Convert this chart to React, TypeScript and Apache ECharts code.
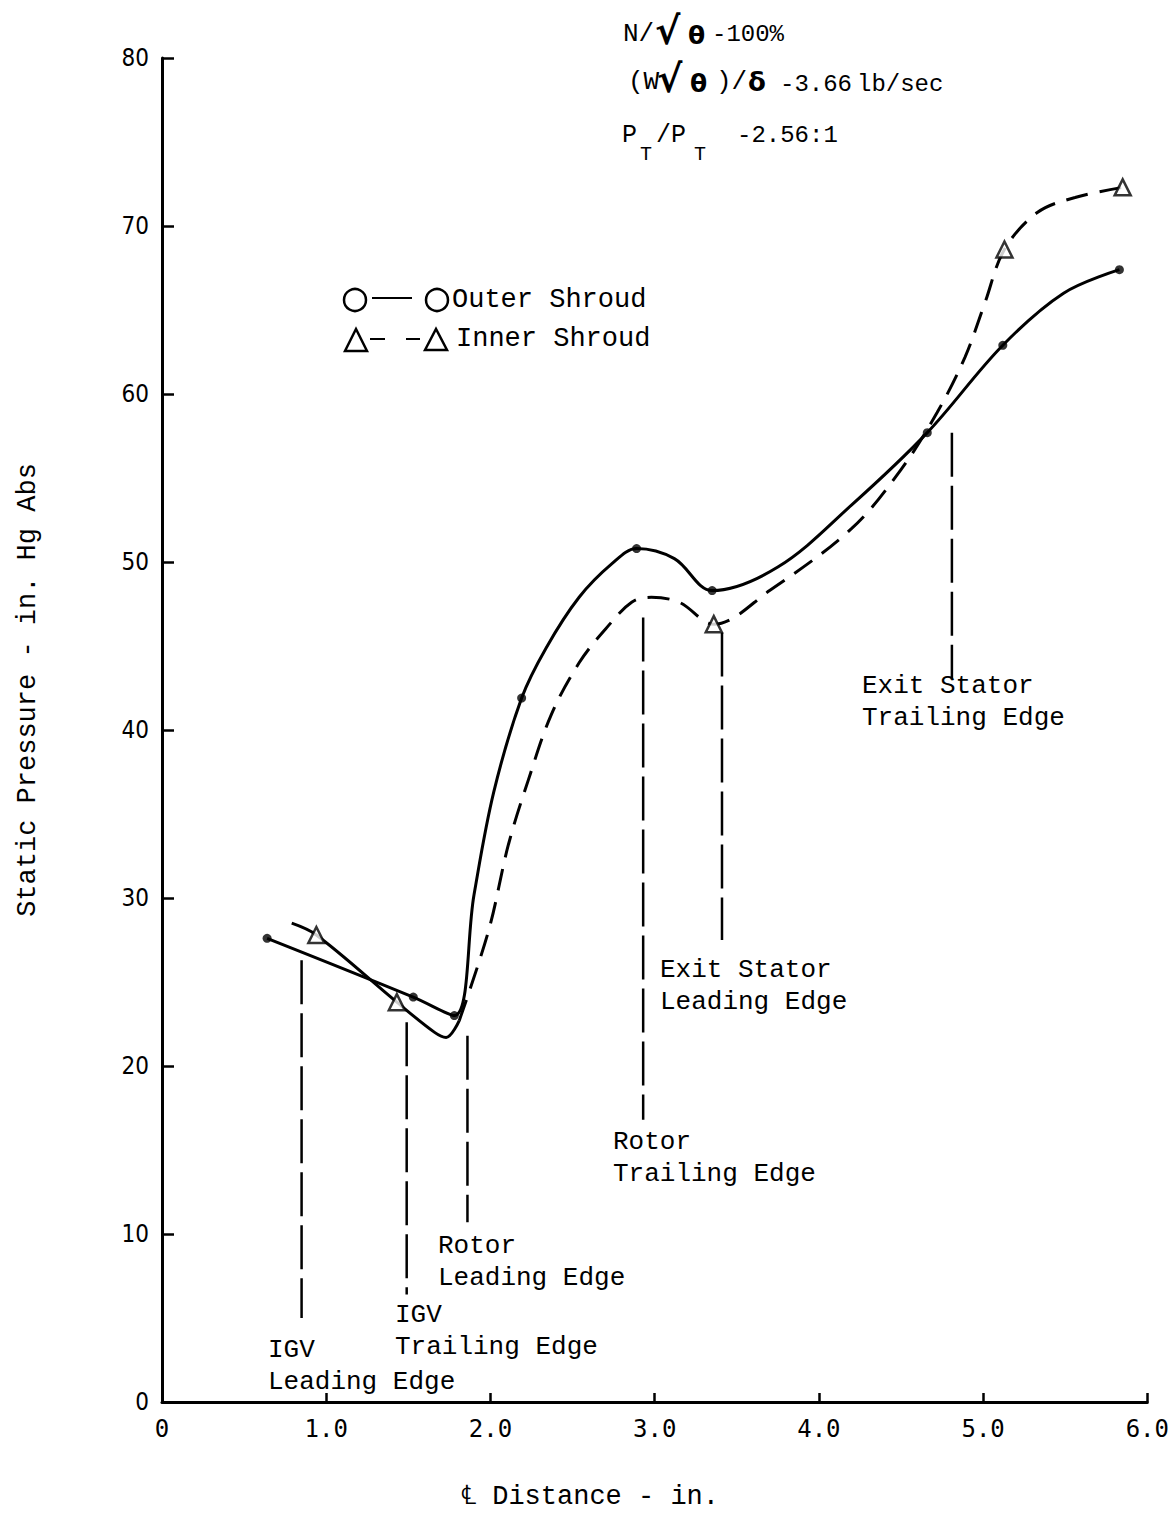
import React, { useEffect, useRef } from "react";
import * as echarts from "echarts";

// Measured static-pressure points (distance in inches, pressure in in. Hg Abs)
const outerX = [0.64, 1.53, 1.78, 2.19, 2.89, 3.35, 4.66, 5.12, 5.83];
const outerY = [27.6, 24.1, 23.0, 41.9, 50.8, 48.3, 57.7, 62.9, 67.4];
const innerX = [0.94, 1.43, 3.36, 5.13, 5.85];
const innerY = [27.8, 23.8, 46.3, 68.6, 72.3];

// Faired curves through the measured points
const outerCurveX = [0.64, 1.53, 1.78, 1.9, 2.02, 2.19, 2.34, 2.54, 2.74, 2.89, 3.12, 3.35, 3.75, 4.2, 4.66, 5.12, 5.49, 5.83];
const outerCurveY = [27.6, 24.1, 23.0, 30.2, 36.3, 41.9, 44.9, 47.9, 49.9, 50.8, 50.2, 48.3, 49.7, 53.4, 57.7, 62.9, 66.0, 67.4];
const innerSolidX = [0.79, 0.94, 1.43, 1.66, 1.73, 1.81];
const innerSolidY = [28.5, 27.8, 23.8, 22.0, 21.7, 22.7];
const innerDashX = [1.81, 1.99, 2.11, 2.23, 2.37, 2.54, 2.7, 2.86, 2.98, 3.15, 3.36, 3.7, 4.2, 4.5, 4.72, 4.89, 5.01, 5.13, 5.33, 5.56, 5.85];
const innerDashY = [22.7, 28.1, 33.2, 37.0, 40.9, 44.0, 46.0, 47.6, 47.9, 47.6, 46.3, 48.3, 52.0, 55.5, 58.9, 62.2, 65.4, 68.6, 70.8, 71.7, 72.3];

// Blade-row station markers
const stationNames = ["IGV\nLeading Edge", "IGV\nTrailing Edge", "Rotor\nLeading Edge", "Rotor\nTrailing Edge", "Exit Stator\nLeading Edge", "Exit Stator\nTrailing Edge"];
const stationX = [0.85, 1.49, 1.86, 2.93, 3.41, 4.81];
const stationTop = [26.3, 22.6, 21.8, 46.7, 45.8, 57.7];
const stationBottom = [5.0, 6.4, 10.7, 16.8, 27.5, 43.0];

const xTicks = [0, 1, 2, 3, 4, 5, 6];
const yTicks = [0, 10, 20, 30, 40, 50, 60, 70, 80];

const zip = (xs: number[], ys: number[]) => xs.map((x, i) => [x, ys[i]]);

const MONO = "'Liberation Mono', 'DejaVu Sans Mono', monospace";
const SANS = "'DejaVu Sans', sans-serif";
const black = "#000";

// Label placement for each station note (left edge, top of first line)
const stationLabelPos = [
  [268, 1334],
  [395, 1299],
  [438, 1230],
  [613, 1126],
  [660, 954],
  [862, 670],
];

function txt(x: number, y: number, text: string, size: number, extra: any = {}) {
  return {
    type: "text",
    x,
    y,
    z: 10,
    style: {
      text,
      fill: black,
      fontFamily: MONO,
      fontSize: size,
      textVerticalAlign: "middle",
      ...extra,
    },
  };
}

function buildOption() {
  const stationSeries = stationX.map((x, i) => ({
    type: "line",
    name: stationNames[i],
    data: [
      [x, stationTop[i]],
      [x, stationBottom[i]],
    ],
    symbol: "none",
    silent: true,
    lineStyle: { color: black, width: 2.5, type: [44, 9] },
    z: 2,
  }));

  const graphic: any[] = [];

  // Station notes
  stationNames.forEach((name, i) => {
    graphic.push({
      type: "text",
      x: stationLabelPos[i][0],
      y: stationLabelPos[i][1],
      z: 10,
      style: {
        text: name,
        fill: black,
        fontFamily: MONO,
        fontSize: 26,
        lineHeight: 32,
        textVerticalAlign: "top",
      },
    });
  });

  // Operating condition block
  const bold = { fontWeight: "bold", fontFamily: SANS };
  graphic.push(
    txt(623, 34, "N/", 26),
    txt(655, 31, "√", 38, bold),
    txt(688, 35, "θ", 25, bold),
    txt(712, 34, "-100%", 24),
    txt(628, 82, "(W", 26),
    txt(657, 79, "√", 38, bold),
    txt(690, 83, "θ", 25, bold),
    txt(716, 82, ")/", 26),
    txt(748, 82, "δ", 26, bold),
    txt(780, 84, "-3.66", 24),
    txt(857, 84, "lb/sec", 24),
    txt(622, 135, "P", 25),
    txt(640, 154, "T", 20),
    txt(656, 135, "/P", 25),
    txt(694, 154, "T", 20),
    txt(737, 135, "-2.56:1", 24)
  );

  // Legend
  graphic.push(
    { type: "circle", shape: { cx: 355, cy: 300, r: 11 }, style: { fill: "#fff", stroke: black, lineWidth: 2.5 }, z: 10 },
    { type: "line", shape: { x1: 372, y1: 298, x2: 412, y2: 298 }, style: { stroke: black, lineWidth: 2 }, z: 10 },
    { type: "circle", shape: { cx: 437, cy: 300, r: 11 }, style: { fill: "#fff", stroke: black, lineWidth: 2.5 }, z: 10 },
    txt(452, 300, "Outer Shroud", 27),
    {
      type: "polygon",
      shape: { points: [[345, 351], [356, 329], [367, 351]] },
      style: { fill: "#fff", stroke: black, lineWidth: 2.5 },
      z: 10,
    },
    { type: "line", shape: { x1: 370, y1: 339, x2: 385, y2: 339 }, style: { stroke: black, lineWidth: 2 }, z: 10 },
    { type: "line", shape: { x1: 406, y1: 339, x2: 420, y2: 339 }, style: { stroke: black, lineWidth: 2 }, z: 10 },
    {
      type: "polygon",
      shape: { points: [[425, 350], [436, 329], [447, 350]] },
      style: { fill: "#fff", stroke: black, lineWidth: 2.5 },
      z: 10,
    },
    txt(456, 339, "Inner Shroud", 27)
  );

  // Axis titles
  graphic.push(
    {
      type: "text",
      x: 28,
      y: 690,
      rotation: Math.PI / 2,
      z: 10,
      style: {
        text: "Static Pressure - in. Hg Abs",
        fill: black,
        fontFamily: MONO,
        fontSize: 27,
        textAlign: "center",
        textVerticalAlign: "middle",
      },
    },
    {
      type: "text",
      x: 590,
      y: 1497,
      z: 10,
      style: {
        text: "\u2104 Distance - in.",
        fill: black,
        fontFamily: MONO,
        fontSize: 27,
        textAlign: "center",
        textVerticalAlign: "middle",
      },
    }
  );

  return {
    animation: false,
    backgroundColor: "#fff",
    grid: { left: 162, right: 22, top: 58, bottom: 115, containLabel: false },
    xAxis: {
      type: "value",
      min: xTicks[0],
      max: xTicks[xTicks.length - 1],
      interval: 1,
      axisLine: { show: true, onZero: false, lineStyle: { color: black, width: 3 } },
      axisTick: { show: true, inside: true, length: 9, lineStyle: { color: black, width: 2.5 } },
      splitLine: { show: false },
      axisLabel: {
        margin: 15,
        color: black,
        fontFamily: "'DejaVu Sans Mono', monospace",
        fontSize: 24,
        formatter: (v: number) => (v === 0 ? "0" : v.toFixed(1)),
      },
    },
    yAxis: {
      type: "value",
      min: yTicks[0],
      max: yTicks[yTicks.length - 1],
      interval: 10,
      axisLine: { show: true, onZero: false, lineStyle: { color: black, width: 3 } },
      axisTick: { show: true, inside: true, length: 12, lineStyle: { color: black, width: 2.5 } },
      splitLine: { show: false },
      axisLabel: {
        margin: 13,
        color: black,
        fontFamily: "'DejaVu Sans Condensed', 'DejaVu Sans', sans-serif",
        fontSize: 24,
      },
    },
    series: [
      {
        type: "line",
        name: "Outer Shroud",
        data: zip(outerCurveX, outerCurveY),
        symbol: "none",
        smooth: 0.35,
        lineStyle: { color: black, width: 3 },
        z: 3,
      },
      {
        type: "line",
        name: "Inner Shroud",
        data: zip(innerSolidX, innerSolidY),
        symbol: "none",
        smooth: 0.35,
        lineStyle: { color: black, width: 3 },
        z: 3,
      },
      {
        type: "line",
        name: "Inner Shroud (faired)",
        data: zip(innerDashX, innerDashY),
        symbol: "none",
        smooth: 0.35,
        lineStyle: { color: black, width: 3, type: [22, 12] },
        z: 3,
      },
      ...stationSeries,
      {
        type: "scatter",
        name: "Outer Shroud points",
        data: zip(outerX, outerY),
        symbol: "circle",
        symbolSize: 9,
        itemStyle: { color: black },
        z: 5,
      },
      {
        type: "scatter",
        name: "Inner Shroud points",
        data: zip(innerX, innerY),
        symbol: "triangle",
        symbolSize: 16,
        itemStyle: { color: "#fff", borderColor: black, borderWidth: 2.5 },
        z: 5,
      },
    ],
    graphic,
  };
}

export default function App() {
  const ref = useRef<HTMLDivElement>(null);
  useEffect(() => {
    if (!ref.current) return;
    const chart = echarts.init(ref.current, null, { renderer: "svg" });
    chart.setOption(buildOption() as any);
    return () => chart.dispose();
  }, []);
  return (
    <div
      ref={ref}
      style={{ position: "absolute", left: 0, top: 0, width: 1172, height: 1517, background: "#fff" }}
    />
  );
}
